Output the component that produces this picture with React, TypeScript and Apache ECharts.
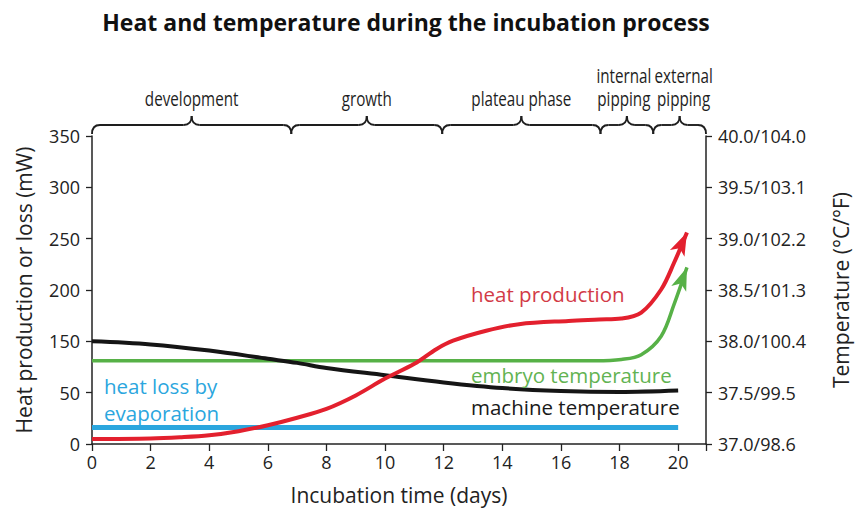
import React, { useEffect, useRef } from "react";
import * as echarts from "echarts";

// ---------- data ----------
const TITLE = "Heat and temperature during the incubation process";
const X_NAME = "Incubation time (days)";
const LEFT_NAME = "Heat production or loss (mW)";
const RIGHT_NAME = "Temperature (°C/°F)";

const X_TICKS = [0, 2, 4, 6, 8, 10, 12, 14, 16, 18, 20];
const X_MAX = 20.95;
// the original left axis skips "100": its seven ticks are evenly spaced
const LEFT_TICK_LABELS = ["0", "50", "150", "200", "250", "300", "350"];
const LEFT_STEP = 50; // axis position units per tick
const RIGHT_TICK_LABELS = [
  "37.0/98.6",
  "37.5/99.5",
  "38.0/100.4",
  "38.5/101.3",
  "39.0/102.2",
  "39.5/103.1",
  "40.0/104.0",
];
const RIGHT_MIN = 37.0;
const RIGHT_STEP = 0.5;

const PHASE_LABELS = [["development"], ["growth"], ["plateau phase"], ["internal", "pipping"], ["external", "pipping"]];
const PHASE_BOUNDS = [0, 6.8, 11.95, 17.35, 19.15, 20.95];

// heat production (left axis position units), ends in an arrow
const heatProduction: number[][] = [
  [0, 4.8], [2, 5.3], [3, 6.5], [4, 8.5], [5, 12.5], [6, 18.3], [7, 25.6], [8, 34.2],
  [9, 47.3], [10, 63.7], [11, 78.1], [11.76, 92.6], [12.32, 100.6], [13.45, 110.3],
  [14.57, 116.7], [16.26, 119.9], [17.3, 121.2], [18.06, 122.2], [18.74, 128],
  [19.42, 150.5], [19.86, 176.5],
];
const heatProductionTip = [20.3, 206];

// heat loss by evaporation (left axis position units)
const heatLoss: number[][] = [[0, 16], [20, 16]];

// embryo temperature (°C), ends in an arrow
const embryoTemp: number[][] = [
  [0, 37.81], [4, 37.81], [8, 37.81], [12, 37.81], [16, 37.81], [17.2, 37.81],
  [18.06, 37.823], [18.74, 37.87], [19.42, 38.05], [19.86, 38.36],
];
const embryoTip = [20.3, 38.72];

// machine temperature (°C)
const machineTemp: number[][] = [
  [0, 38.0], [2, 37.97], [4, 37.91], [6, 37.83], [7, 37.79], [8, 37.74], [10, 37.67],
  [12, 37.6], [14, 37.545], [16, 37.516], [18, 37.506], [20, 37.52],
];

// ---------- styles ----------
const FONT = "'Open Sans', 'Noto Sans', sans-serif";
const RED = "#e3202e";
const GREEN = "#57b147";
const BLUE = "#2ba6de";
const BLACK = "#151515";
const AXIS = "#222";
const PHASE_DX = [0, 0, 0, -3, 4];

export default function App() {
  const ref = useRef<HTMLDivElement>(null);

  useEffect(() => {
    const el = ref.current!;
    const chart = echarts.init(el, null, { renderer: "svg" });

    const axisCommon = {
      axisLine: { show: true, lineStyle: { color: AXIS, width: 1.5 } },
      axisTick: { show: true, inside: false, length: 6, lineStyle: { color: AXIS, width: 1.3 } },
      splitLine: { show: false },
      axisLabel: { color: "#222", fontFamily: FONT, fontSize: 18 },
      nameTextStyle: { color: "#222", fontFamily: FONT, fontSize: 21 },
    };

    chart.setOption({
      animation: false,
      backgroundColor: "#fff",
      title: {
        text: TITLE,
        left: 401,
        top: 5,
        textAlign: "center",
        textStyle: { fontFamily: FONT, fontWeight: "bold", fontSize: 23, color: "#111" },
      },
      grid: { left: 92, right: 147, top: 136, bottom: 64, containLabel: false },
      xAxis: {
        type: "value",
        min: 0,
        max: X_MAX,
        interval: 2,
        name: X_NAME,
        nameLocation: "middle",
        nameGap: 40,
        ...axisCommon,
        axisTick: { ...axisCommon.axisTick, length: 7 },
        axisLabel: {
          ...axisCommon.axisLabel,
          margin: 9,
          formatter: (v: number) => (X_TICKS.indexOf(v) >= 0 ? String(v) : ""),
        },
      },
      yAxis: [
        {
          type: "value",
          position: "left",
          min: 0,
          max: LEFT_STEP * (LEFT_TICK_LABELS.length - 1),
          interval: LEFT_STEP,
          name: LEFT_NAME,
          nameLocation: "middle",
          nameGap: 58,
          ...axisCommon,
          axisLabel: {
            ...axisCommon.axisLabel,
            margin: 12,
            formatter: (v: number) => LEFT_TICK_LABELS[Math.round(v / LEFT_STEP)] ?? "",
          },
        },
        {
          type: "value",
          position: "right",
          min: RIGHT_MIN,
          max: RIGHT_MIN + RIGHT_STEP * (RIGHT_TICK_LABELS.length - 1),
          interval: RIGHT_STEP,
          name: RIGHT_NAME,
          nameLocation: "middle",
          nameGap: 124,
          nameRotate: 90,
          ...axisCommon,
          axisLabel: {
            ...axisCommon.axisLabel,
            margin: 12,
            formatter: (v: number) => RIGHT_TICK_LABELS[Math.round((v - RIGHT_MIN) / RIGHT_STEP)] ?? "",
          },
        },
      ],
      series: [
        {
          name: "heat loss by evaporation",
          type: "line",
          yAxisIndex: 0,
          data: heatLoss,
          symbol: "none",
          lineStyle: { color: BLUE, width: 5 },
          itemStyle: { color: BLUE },
          z: 2,
        },
        {
          name: "embryo temperature",
          type: "line",
          yAxisIndex: 1,
          smooth: 0.35,
          symbol: "none",
          showSymbol: true,
          data: [
            ...embryoTemp.map((p) => ({ value: p })),
            { value: embryoTip, symbol: "arrow", symbolSize: [12, 23], symbolRotate: -21 },
          ],
          lineStyle: { color: GREEN, width: 3.5 },
          itemStyle: { color: GREEN },
          z: 3,
        },
        {
          name: "machine temperature",
          type: "line",
          yAxisIndex: 1,
          smooth: 0.35,
          symbol: "none",
          data: machineTemp,
          lineStyle: { color: BLACK, width: 4 },
          itemStyle: { color: BLACK },
          z: 4,
        },
        {
          name: "heat production",
          type: "line",
          yAxisIndex: 0,
          smooth: 0.35,
          symbol: "none",
          showSymbol: true,
          data: [
            ...heatProduction.map((p) => ({ value: p })),
            { value: heatProductionTip, symbol: "arrow", symbolSize: [12, 23], symbolRotate: -25 },
          ],
          lineStyle: { color: RED, width: 4 },
          itemStyle: { color: RED },
          z: 5,
        },
      ],
    });

    // ----- braces and annotation texts -----
    const px = (d: number) => chart.convertToPixel({ xAxisIndex: 0 }, d) as number;
    const yTop = chart.convertToPixel({ yAxisIndex: 0 }, LEFT_STEP * (LEFT_TICK_LABELS.length - 1)) as number;
    const yL = yTop - 11;
    const r = 8;
    const stroke = { stroke: "#1e1e1e", lineWidth: 1.9, fill: "none" };
    const graphic: any[] = [];
    for (let i = 0; i < PHASE_LABELS.length; i++) {
      const a = px(PHASE_BOUNDS[i]);
      const b = px(PHASE_BOUNDS[i + 1]);
      const m = (a + b) / 2;
      graphic.push(
        { type: "bezierCurve", shape: { x1: a, y1: yL + 9, cpx1: a, cpy1: yL, x2: a + r, y2: yL }, style: stroke, silent: true },
        { type: "line", shape: { x1: a + r, y1: yL, x2: m - r, y2: yL }, style: stroke, silent: true },
        { type: "bezierCurve", shape: { x1: m - r, y1: yL, cpx1: m, cpy1: yL, x2: m, y2: yL - 9 }, style: stroke, silent: true },
        { type: "bezierCurve", shape: { x1: m, y1: yL - 9, cpx1: m, cpy1: yL, x2: m + r, y2: yL }, style: stroke, silent: true },
        { type: "line", shape: { x1: m + r, y1: yL, x2: b - r, y2: yL }, style: stroke, silent: true },
        { type: "bezierCurve", shape: { x1: b - r, y1: yL, cpx1: b, cpy1: yL, x2: b, y2: yL + 9 }, style: stroke, silent: true }
      );
      const lines = PHASE_LABELS[i];
      lines.forEach((t, j) => {
        const cy = yL - 27 - (lines.length - 1 - j) * 23;
        graphic.push({
          type: "text",
          x: m + PHASE_DX[i],
          y: cy,
          scaleX: 0.78,
          silent: true,
          style: {
            text: t,
            font: `500 19.5px ${FONT}`,
            fill: "#1e1e1e",
            align: "center",
            verticalAlign: "middle",
            textAlign: "center",
            textVerticalAlign: "middle",
          },
        });
      });
    }

    const label = (text: string, x: number, y: number, color: string) => ({
      type: "text",
      x,
      y,
      silent: true,
      z: 10,
      style: {
        text,
        font: `20.5px ${FONT}`,
        fill: color,
        align: "left",
        verticalAlign: "middle",
        textAlign: "left",
        textVerticalAlign: "middle",
      },
    });
    graphic.push(
      label("heat production", 471, 294, "#d23a46"),
      label("embryo temperature", 471, 375, "#62b352"),
      label("machine temperature", 471, 407, "#1a1a1a"),
      label("heat loss by", 104, 386, "#2ba6de"),
      label("evaporation", 104, 413, "#2ba6de")
    );
    chart.setOption({ graphic });

    return () => chart.dispose();
  }, []);

  return (
    <div
      ref={ref}
      style={{ position: "fixed", left: 0, top: 0, width: 859, height: 510, background: "#fff" }}
    />
  );
}
